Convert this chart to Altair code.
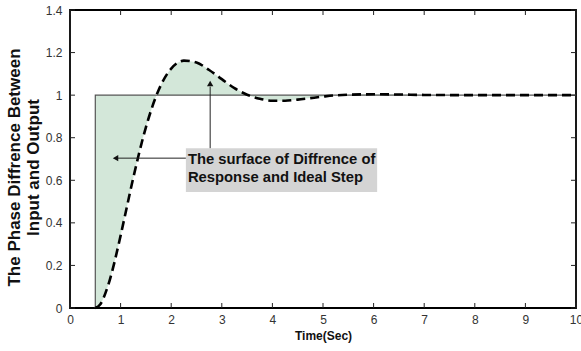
import altair as alt
import pandas as pd

# Response curve
t_vals = [0.5, 0.6, 0.75, 1.0, 1.1, 1.25, 1.5, 1.75, 2.0, 2.25, 2.5, 2.75, 3.0, 3.25,
          3.5, 3.75, 4.0, 4.25, 4.5, 4.75, 5.0, 5.25, 5.5, 6.0, 6.5, 7.0, 8.0, 9.0, 10.0]
resp_vals = [0.0, 0.018, 0.104, 0.34, 0.449, 0.611, 0.849, 1.023, 1.125, 1.162, 1.153, 1.118,
             1.075, 1.033, 1.002, 0.983, 0.974, 0.974, 0.979, 0.986, 0.993, 0.999, 1.002,
             1.004, 1.003, 1.001, 1.0, 1.0, 1.0]
ideal_vals = [1.0] * len(t_vals)

# Ideal step
step_t = [0.5, 0.5, 10.0]
step_y = [0.0, 1.0, 1.0]

x_ticks = [0, 1, 2, 3, 4, 5, 6, 7, 8, 9, 10]
y_ticks = [0, 0.2, 0.4, 0.6, 0.8, 1.0, 1.2, 1.4]

note_lines = ["The surface of Diffrence of", "Response and Ideal Step"]

W, H = 506, 298
FONT = "Liberation Sans"

df = pd.DataFrame({"t": t_vals, "resp": resp_vals, "ideal": ideal_vals})
step_df = pd.DataFrame({"t": step_t, "y": step_y, "o": list(range(len(step_t)))})

xs = alt.Scale(domain=[0, 10], nice=False)
ys = alt.Scale(domain=[0, 1.4], nice=False)

xaxis = alt.Axis(values=x_ticks, ticks=False, domain=False, grid=False, labelFont=FONT,
                 labelFontSize=12, labelColor="#333", labelPadding=6,
                 title="Time(Sec)", titleFont=FONT, titleFontSize=12, titleFontWeight="bold",
                 titleColor="#111", titlePadding=5, labelFlush=False)
yaxis = alt.Axis(values=y_ticks, ticks=False, domain=False, grid=False, labelFont=FONT,
                 labelFontSize=12, labelColor="#333", labelPadding=8,
                 labelExpr="datum.value == 1 ? '1' : datum.value == 0 ? '0' : format(datum.value, '.1f')",
                 title=["The Phase Diffrence Between", "Input and Output"], titleFont=FONT,
                 titleFontSize=17, titleFontWeight="bold", titleColor="#111", titlePadding=3,
                 titleLineHeight=19, titleY=157)

area = alt.Chart(df).mark_area(color="#d3e7d9", opacity=1, interpolate="monotone").encode(
    x=alt.X("t:Q", scale=xs, axis=xaxis),
    y=alt.Y("resp:Q", scale=ys, axis=yaxis),
    y2="ideal:Q",
)

step = alt.Chart(step_df).mark_line(color="#555555", strokeWidth=1.2).encode(
    x=alt.X("t:Q", scale=xs), y=alt.Y("y:Q", scale=ys), order="o:Q"
)

curve = alt.Chart(df).mark_line(color="black", strokeWidth=2.6, strokeDash=[9, 5],
                                interpolate="monotone").encode(
    x=alt.X("t:Q", scale=xs), y=alt.Y("resp:Q", scale=ys)
)

# annotation box
box_df = pd.DataFrame({"x": [2.29], "x2": [6.07], "y": [0.751], "y2": [0.545]})
box = alt.Chart(box_df).mark_rect(color="#d4d4d4").encode(
    x=alt.X("x:Q", scale=xs), x2="x2:Q", y=alt.Y("y:Q", scale=ys), y2="y2:Q"
)
text_df = pd.DataFrame({"x": [2.33], "y": [0.732], "txt": [note_lines]})
text = alt.Chart(text_df).mark_text(align="left", baseline="top", font=FONT, fontSize=14.8,
                                    fontWeight="bold", color="#111", lineHeight=18).encode(
    x=alt.X("x:Q", scale=xs), y=alt.Y("y:Q", scale=ys), text="txt"
)

# arrows
harrow_df = pd.DataFrame({"x": [0.92], "x2": [2.29], "y": [0.704]})
harrow = alt.Chart(harrow_df).mark_rule(color="#222", strokeWidth=1).encode(
    x=alt.X("x:Q", scale=xs), x2="x2:Q", y=alt.Y("y:Q", scale=ys)
)
hhead = alt.Chart(pd.DataFrame({"x": [0.9], "y": [0.704]})).mark_point(
    shape="triangle-left", filled=True, color="#111", size=40, opacity=1).encode(
    x=alt.X("x:Q", scale=xs), y=alt.Y("y:Q", scale=ys)
)
varrow_df = pd.DataFrame({"x": [2.77], "y": [0.751], "y2": [1.04]})
varrow = alt.Chart(varrow_df).mark_rule(color="#222", strokeWidth=1).encode(
    x=alt.X("x:Q", scale=xs), y=alt.Y("y:Q", scale=ys), y2="y2:Q"
)
vhead = alt.Chart(pd.DataFrame({"x": [2.77], "y": [1.055]})).mark_point(
    shape="triangle-up", filled=True, color="#111", size=40, opacity=1).encode(
    x=alt.X("x:Q", scale=xs), y=alt.Y("y:Q", scale=ys)
)

# inward ticks
xt_df = pd.DataFrame({"v": x_ticks})
yt_df = pd.DataFrame({"v": y_ticks})
TL = 5
xt_bot = alt.Chart(xt_df).mark_rule(color="#222", strokeWidth=1).encode(
    x=alt.X("v:Q", scale=xs), y=alt.value(H), y2=alt.value(H - TL))
xt_top = alt.Chart(xt_df).mark_rule(color="#222", strokeWidth=1).encode(
    x=alt.X("v:Q", scale=xs), y=alt.value(0), y2=alt.value(TL))
yt_left = alt.Chart(yt_df).mark_rule(color="#222", strokeWidth=1).encode(
    y=alt.Y("v:Q", scale=ys), x=alt.value(0), x2=alt.value(TL))
yt_right = alt.Chart(yt_df).mark_rule(color="#222", strokeWidth=1).encode(
    y=alt.Y("v:Q", scale=ys), x=alt.value(W), x2=alt.value(W - TL))

chart = alt.layer(area, step, curve, box, text, harrow, hhead, varrow, vhead,
                  xt_bot, xt_top, yt_left, yt_right).properties(
    width=W, height=H,
    autosize=alt.AutoSizeParams(type="none"),
    padding={"left": 70, "top": 10, "right": 5, "bottom": 43},
    background="white",
).configure_view(stroke="black", strokeWidth=1.8)

chart.save("out.html", embed_options={"renderer": "svg", "actions": False})
